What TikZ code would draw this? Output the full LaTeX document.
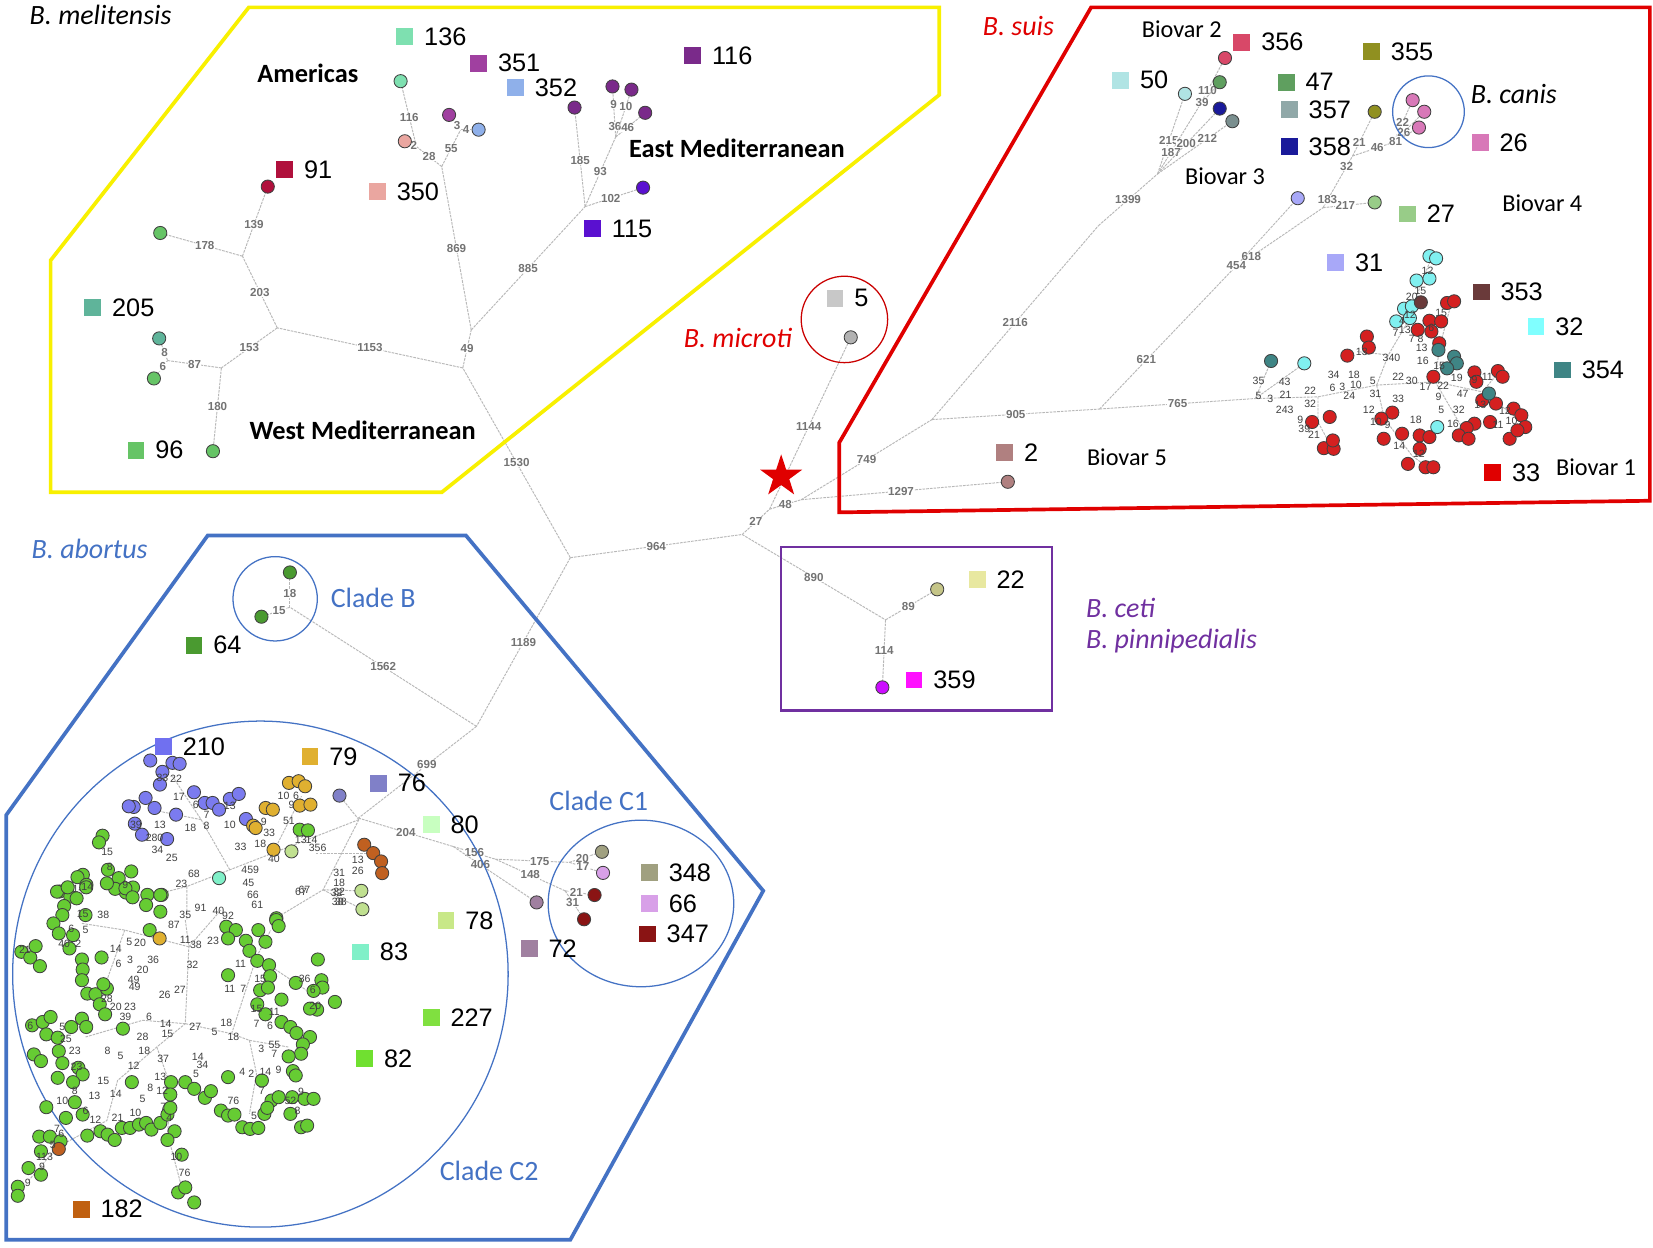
\documentclass[tikz,border=0pt]{standalone}
\usepackage{fontspec}
\setmainfont{Carlito}
\newfontfamily\arialfont{Liberation Sans}
\usetikzlibrary{%
  positioning,
  shapes.geometric
}
%%% legend colours, named after the legend numbers
\definecolor{c136}{HTML}{7EE0B0}
\definecolor{c351}{HTML}{A040A0}
\definecolor{c352}{HTML}{8FB0EA}
\definecolor{c116}{HTML}{7A2A8A}
\definecolor{c91}{HTML}{B0103C}
\definecolor{c350}{HTML}{EAA6A0}
\definecolor{c115}{HTML}{5A10D0}
\definecolor{c205}{HTML}{5FB49A}
\definecolor{c96}{HTML}{66C466}
\definecolor{c5}{HTML}{C8C8C8}
\definecolor{c356}{HTML}{D84868}
\definecolor{c355}{HTML}{909020}
\definecolor{c50}{HTML}{B0E4E4}
\definecolor{c47}{HTML}{5F9F5F}
\definecolor{c357}{HTML}{90A8A8}
\definecolor{c358}{HTML}{1A1A9A}
\definecolor{c26}{HTML}{D878B8}
\definecolor{c27}{HTML}{98CC88}
\definecolor{c31}{HTML}{A8A8F8}
\definecolor{c353}{HTML}{6A3A3A}
\definecolor{c32}{HTML}{80FFFF}
\definecolor{c354}{HTML}{3F8585}
\definecolor{c2}{HTML}{B08080}
\definecolor{c33}{HTML}{E00000}
\definecolor{c22}{HTML}{E8E8A0}
\definecolor{c359}{HTML}{FF10FF}
\definecolor{c64}{HTML}{4A9A30}
\definecolor{c210}{HTML}{7070F0}
\definecolor{c79}{HTML}{E0B030}
\definecolor{c76}{HTML}{8080C8}
\definecolor{c80}{HTML}{C8FFC0}
\definecolor{c78}{HTML}{C8E888}
\definecolor{c83}{HTML}{80F0C8}
\definecolor{c227}{HTML}{80E040}
\definecolor{c82}{HTML}{70E030}
\definecolor{c72}{HTML}{A080A0}
\definecolor{c348}{HTML}{A0A080}
\definecolor{c66}{HTML}{D8A0E8}
\definecolor{c347}{HTML}{8A1414}
\definecolor{c182}{HTML}{C06010}
%%% cluster and region colours
\definecolor{abgreen}{HTML}{66CC33}
\definecolor{bvred}{HTML}{D42020}
\definecolor{bvcyan}{HTML}{80F0F0}
\definecolor{bvteal}{HTML}{3F8585}
\definecolor{abviolet}{HTML}{7B7BEF}
\definecolor{abgold}{HTML}{E0B030}
\definecolor{abbrown}{HTML}{C06020}
\definecolor{ablight}{HTML}{C0E090}
\definecolor{melyellow}{HTML}{F8F000}
\definecolor{suisred}{HTML}{E00000}
\definecolor{abblue}{HTML}{4472C4}
\definecolor{cetipurple}{HTML}{7030A0}
\pgfdeclarelayer{behind}
\pgfsetlayers{behind,main}
\tikzset{
  edge/.style={draw=black!28, line width=0.9pt, dash pattern=on 2.5pt off 1pt},
  elab/.style={font=\arialfont\fontsize{11}{11}\selectfont\bfseries, text=black!55, fill=white, inner sep=0.4pt},
  clab/.style={font=\arialfont\fontsize{10}{10}\selectfont, text=black!75, inner sep=0pt},
  dot/.style={circle, draw=black!75, line width=0.8pt, minimum size=12.5pt, inner sep=0pt},
  sq/.style={rectangle, minimum size=16pt, inner sep=0pt},
  num/.style={font=\arialfont\fontsize{24}{24}\selectfont, inner sep=1pt},
  species/.style={font=\fontsize{26.5}{26.5}\selectfont\itshape, inner sep=0pt},
  region/.style={font=\fontsize{25}{25}\selectfont\bfseries, inner sep=0pt},
  biovar/.style={font=\fontsize{23}{23}\selectfont, inner sep=0pt},
  clade/.style={font=\fontsize{26.5}{26.5}\selectfont, text=abblue, inner sep=0pt},
  thinring/.style={line width=1.2pt},
}

\begin{document}
\begin{tikzpicture}[x=1pt,y=-1pt]
\begin{pgfonlayer}{behind}
\fill[white] (0,0) rectangle (1568,1183);
\end{pgfonlayer}
\useasboundingbox (0,0) rectangle (1568,1183);

%%% species regions
\draw[melyellow, line width=3.5pt, line join=miter] (236,7) -- (891,7) -- (891,90) -- (419,467) -- (48,467) -- (48,247) -- cycle;
\draw[suisred, line width=3.5pt] (1035,7) -- (1565,7) -- (1565,475) -- (796,486) -- (796,420) -- cycle;
\draw[abblue, line width=3.5pt] (197,508) -- (442,508) -- (724,845) -- (541,1176) -- (6,1176) -- (6,773) -- cycle;
\draw[cetipurple, line width=2.5pt] (741,519) rectangle (998,674);
\draw[suisred!90!black, thinring] (801,303) circle (41);
\draw[abblue, thinring] (1355,106) circle (34);
\draw[abblue, thinring] (261,568) circle (40);
\draw[abblue, thinring] (247,924) ellipse (235 and 240);
\draw[abblue, thinring] (608,857) ellipse (88 and 79);

%%% root
\node[star, star points=5, star point ratio=2.6, fill=suisred, inner sep=0pt, minimum size=42pt] (root) at (741,452) {};

%%% branch points
\coordinate (r0) at (704,507);
\coordinate (r1) at (730,483);
\coordinate (r2) at (760,474);
\coordinate (ja) at (541,529);
\coordinate (jm) at (439,349);
\coordinate (jb) at (452,689);
\coordinate (jc) at (840,588);
\coordinate (js) at (884,398);
\coordinate (js2) at (1043,388);
\coordinate (jk) at (1191,378);
%% melitensis
\coordinate (mj1) at (263,311);
\coordinate (mj2) at (447,313);
\coordinate (mj3) at (419,158);
\coordinate (mj4) at (555,196);
\coordinate (mj5) at (230,243);
\coordinate (mj6) at (210,349);
\coordinate (mj7) at (395,139);
\coordinate (mj8) at (584,130);
\coordinate (mj9) at (437,123);
\coordinate (mj10) at (159,342);
%% suis
\coordinate (jsb) at (1042,214);
\coordinate (jsc) at (1098,165);
\coordinate (jsd) at (1138,100);
\coordinate (jse) at (1170,255);
\coordinate (jsf) at (1255,197);
\coordinate (jsg) at (1283,148);
\coordinate (jsh) at (1322,135);
%% abortus
\coordinate (jcb) at (275,576);
\coordinate (jd) at (340,776);
\coordinate (je) at (430,803);
\coordinate (jf) at (470,815);
\coordinate (jg) at (540,818);
\coordinate (jh) at (536,845);

%%% genotypes
\node[dot, fill=c136] (m136) at (380,77) {};
\node[dot, fill=c350] (m350) at (384,134) {};
\node[dot, fill=c351] (m351) at (426,109) {};
\node[dot, fill=c352] (m352) at (454,123) {};
\node[dot, fill=c91] (m91) at (254,177) {};
\node[dot, fill=c96] (mg1) at (152,221) {};
\node[dot, fill=c205] (m205) at (151,321) {};
\node[dot, fill=c96] (mg2) at (146,359) {};
\node[dot, fill=c96] (m96) at (202,428) {};
\node[dot, fill=c116] (m116a) at (545,102) {};
\node[dot, fill=c116] (m116b) at (581,82) {};
\node[dot, fill=c116] (m116c) at (599,85) {};
\node[dot, fill=c116] (m116d) at (612,107) {};
\node[dot, fill=c115] (m115) at (610,178) {};
\node[dot, fill=black!30] (m5) at (807,320) {};
\node[dot, fill=c356] (n356) at (1162,55) {};
\node[dot, fill=c47] (n47) at (1157,78) {};
\node[dot, fill=c50] (n50) at (1124,89) {};
\node[dot, fill=c358] (n358) at (1157,103) {};
\node[dot, fill=c357!85!black] (n357) at (1169,115) {};
\node[dot, fill=c355] (n355) at (1304,106) {};
\node[dot, fill=c26] (nc1) at (1340,95) {};
\node[dot, fill=c26] (nc2) at (1351,106) {};
\node[dot, fill=c26] (nc3) at (1346,121) {};
\node[dot, fill=c31] (n31) at (1231,188) {};
\node[dot, fill=c27] (n27) at (1304,192) {};
\node[dot, fill=c2] (b5) at (956,457) {};
\node[dot, fill=c22!85!black] (n22) at (889,559) {};
\node[dot, fill=c359!80!blue] (n359) at (837,652) {};
\node[dot, fill=c64] (nb1) at (275,543) {};
\node[dot, fill=c64] (nb2) at (248,585) {};
\node[dot, fill=c348] (n348) at (571,808) {};
\node[dot, fill=c66] (n66) at (572,828) {};
\node[dot, fill=c347] (n347a) at (564,849) {};
\node[dot, fill=c347] (n347b) at (554,872) {};
\node[dot, fill=c72] (n72) at (509,856) {};

%%% tree
\begin{pgfonlayer}{behind}
\draw[edge] (ja) -- node[elab]{964} (r0);
\draw[edge] (r0) -- node[elab]{27} (r1);
\draw[edge] (r1) -- node[elab]{1144} (m5);
\draw[edge] (r1) -- node[elab]{48} (r2);
\draw[edge] (r2) -- node[elab]{1297} (b5);
\draw[edge] (r2) -- node[elab]{749} (js);
\draw[edge] (r0) -- node[elab]{890} (jc);
\draw[edge] (jc) -- node[elab]{89} (n22);
\draw[edge] (jc) -- node[elab]{114} (n359);
%% melitensis
\draw[edge] (ja) -- node[elab]{1530} (jm);
\draw[edge] (jm) -- node[elab]{1153} (mj1);
\draw[edge] (jm) -- node[elab]{49} (mj2);
\draw[edge] (mj2) -- node[elab]{869} (mj3);
\draw[edge] (mj2) -- node[elab]{885} (mj4);
\draw[edge] (mj3) -- node[elab]{28} (mj7);
\draw[edge] (mj7) -- node[elab]{116} (m136);
\draw[edge] (mj7) -- node[elab]{2} (m350);
\draw[edge] (mj3) -- node[elab]{55} (mj9);
\draw[edge] (mj9) -- node[elab]{3} (m351);
\draw[edge] (mj9) -- node[elab]{4} (m352);
\draw[edge] (mj1) -- node[elab]{203} (mj5);
\draw[edge] (mj5) -- node[elab]{178} (mg1);
\draw[edge] (mj5) -- node[elab]{139} (m91);
\draw[edge] (mj1) -- node[elab]{153} (mj6);
\draw[edge] (mj6) -- node[elab]{87} (mj10);
\draw[edge] (mj10) -- node[elab]{8} (m205);
\draw[edge] (mj10) -- node[elab]{6} (mg2);
\draw[edge] (mj6) -- node[elab]{180} (m96);
\draw[edge] (mj4) -- node[elab]{185} (m116a);
\draw[edge] (mj4) -- node[elab]{93} (mj8);
\draw[edge] (mj4) -- node[elab]{102} (m115);
\draw[edge] (mj8) -- node[elab,pos=.25]{36} node[elab,pos=.75]{9} (m116b);
\draw[edge] (mj8) -- node[elab,pos=.75]{10} (m116c);
\draw[edge] (mj8) -- node[elab]{46} (m116d);
%% suis
\draw[edge] (js) -- node[elab]{905} (js2);
\draw[edge] (js) -- node[elab]{2116} (jsb);
\draw[edge] (jsb) -- node[elab]{1399} (jsc);
\draw[edge] (jsc) -- node[elab,pos=.45]{215} (n50);
\draw[edge] (jsc) -- node[elab,pos=.32]{187} (jsd);
\draw[edge] (jsd) -- node[elab,pos=.35]{110} (n356);
\draw[edge] (jsd) -- node[elab,pos=.15]{39} (n47);
\draw[edge] (jsc) -- node[elab,pos=.5]{200} (n358);
\draw[edge] (jsc) -- node[elab,pos=.72]{212} (n357);
\draw[edge] (js2) -- node[elab,pos=.35]{621} (jse);
\draw[edge] (jse) -- node[elab,pos=.2]{618} (jsf);
\draw[edge] (jse) -- node[elab,pos=.05]{454} (n31);
\draw[edge] (jsf) -- node[elab]{217} (n27);
\draw[edge] (jsf) -- node[elab,pos=.15]{183} node[elab,pos=.8]{32} (jsg);
\draw[edge] (jsg) -- node[elab,pos=.35]{21} (n355);
\draw[edge] (jsg) -- node[elab,pos=.6]{46} (jsh);
\draw[edge] (jsh) -- node[elab,pos=.55]{22} (nc1);
\draw[edge] (jsh) -- node[elab,pos=.4]{26} (nc2);
\draw[edge] (jsh) -- node[elab,pos=.1]{81} (nc3);
\draw[edge] (js2) -- node[elab]{765} (jk);
%% abortus
\draw[edge] (ja) -- node[elab]{1189} (jb);
\draw[edge] (jb) -- node[elab]{1562} (jcb);
\draw[edge] (jcb) -- node[elab]{18} (nb1);
\draw[edge] (jcb) -- node[elab]{15} (nb2);
\draw[edge] (jb) -- node[elab,pos=.42]{699} (jd);
\draw[edge] (jd) -- node[elab]{204} (je);
\draw[edge] (je) -- node[elab]{156} (jf);
\draw[edge] (je) -- node[elab,pos=.35]{406} (n72);
\draw[edge] (jf) -- node[elab,pos=.6]{175} (jg);
\draw[edge] (jf) -- node[elab]{148} (jh);
\draw[edge] (jg) -- node[elab]{20} (n348);
\draw[edge] (jg) -- node[elab]{17} (n66);
\draw[edge] (jh) -- node[elab]{21} (n347a);
\draw[edge] (jh) -- node[elab]{31} (n347b);
\end{pgfonlayer}

%%% biovar 1 cluster
\begin{scope}[shift={(990.5,209.5)}, xscale=.371, yscale=.318]
\begin{pgfonlayer}{behind}
\draw[edge] (540,530) -- (700,525) -- (850,490) -- (1000,480) -- (1120,510) -- (1200,580);
\draw[edge] (540,530) -- (580,418);
\draw[edge] (540,530) -- (665,425);
\draw[edge] (700,525) -- (700,600) -- (730,665);
\draw[edge] (850,490) -- (880,400) -- (930,300) -- (960,200) -- (990,110);
\draw[edge] (850,490) -- (870,590) -- (940,700) -- (980,735);
\draw[edge] (1000,480) -- (1010,380) -- (1040,250);
\draw[edge] (1000,480) -- (1070,620);
\draw[edge] (1120,510) -- (1160,455);
\draw[edge] (880,400) -- (800,390);
\end{pgfonlayer}
\foreach \x/\y [count=\i] in {1030/245,1048/240,985/298,1015/300,955/325,990/330,1010/365,825/345,830/378,775/402,995/465,1100/452,1160/448,1172/465,1155/545,1200/560,1220/580,1230/615,1190/650,1210/625,1100/605,1080/618,1060/640,1085/650,960/640,985/645,915/635,868/650,890/572,862/590,960/680,930/725,975/735,995/735,730/585,685/600,715/678,740/680,738/655,1120/535,1105/480,1140/600}
  \node[dot, fill=bvred] (bvr\i) at (\x,\y) {};
\foreach \x/\y [count=\i] in {985/105,1002/112,952/178,985/172,920/262,935/290,900/300,1005/615,665/425,940/255}
  \node[dot, fill=bvcyan] (bvc\i) at (\x,\y) {};
\foreach \x/\y [count=\i] in {580/418,1008/385,1048/405,1055/425,1030/440,1137/515}
  \node[dot, fill=bvteal] (bvt\i) at (\x,\y) {};
\node[dot, fill=c353] (bvb1) at (963,243) {};
\foreach \x/\y/\t [count=\i] in {980/150/12,962/210/15,940/228/20,935/280/12,1015/275/15,915/298/4,898/335/7,922/325/13,990/318/6,940/352/7,962/352/8,965/378/13,812/390/13,888/408/340,968/418/16,1010/432/15,1055/468/19,905/465/22,940/478/30,975/495/17,1020/492/22,840/478/5,548/478/35,615/480/43,548/522/5,617/518/21,578/530/3,680/508/22,680/545/32,615/563/243,740/460/34,792/460/18,737/497/6,762/495/3,797/490/10,780/523/24,847/515/31,905/530/33,1008/525/9,830/565/12,848/600/10,878/610/9,950/595/18,1015/565/5,1060/565/32,1045/605/16,1115/548/13,1178/568/12,1195/598/10,1160/610/11,908/672/14,958/695/12,655/595/9,665/620/39,690/638/21,1133/465/11,1100/475/9,1070/515/47}
  \node[clab] (bvl\i) at (\x,\y) {\t};
\end{scope}

%%% clade C2, upper part
\begin{scope}[shift={(0.4,492.2)}, xscale=.34, yscale=.317]
\begin{pgfonlayer}{behind}
\draw[edge] (1000,900) -- (760,1000) -- (640,1050) -- (520,1100) -- (520,1200);
\draw[edge] (1000,900) -- (946,828);
\draw[edge] (760,1000) -- (840,830);
\draw[edge] (640,1050) -- (560,900) -- (480,770);
\draw[edge] (560,900) -- (420,870);
\draw[edge] (1000,900) -- (900,1110) -- (760,1200);
\draw[edge] (900,1110) -- (1007,1113);
\draw[edge] (900,1110) -- (1010,1168);
\draw[edge] (880,1000) -- (1040,1000);
\draw[edge] (520,1100) -- (410,1130);
\end{pgfonlayer}
\foreach \x/\y [count=\i] in {418/723,480/730,500/733,452/757,445/795,540/818,405/835,372/862,358/860,430/865,490/885,570/850,592/850,640/838,665/823,685/898,375/912,395/945,465/958,610/870}
  \node[dot, fill=abviolet] (abv\i) at (\x,\y) {};
\foreach \x/\y [count=\i] in {805/790,832/785,850/800,740/865,760/870,835/858,865/855,705/918,712/925,762/990}
  \node[dot, fill=abgold] (abo\i) at (\x,\y) {};
\foreach \x/\y [count=\i] in {835/930,858/932,285/948,275/968,230/1065,215/1072,300/1050,365/1055,330/1075,350/1118,370/1103,320/1107,165/1115,195/1130,240/1095,410/1125,450/1125,770/1195}
  \node[dot, fill=abgreen] (abg\i) at (\x,\y) {};
\foreach \x/\y [count=\i] in {812/995,1007/1113,1010/1168}
  \node[dot, fill=ablight] (abl\i) at (\x,\y) {};
\foreach \x/\y [count=\i] in {1015/975,1040/1000,1062/1025,1065/1060}
  \node[dot, fill=abbrown] (abb\i) at (\x,\y) {};
\node[dot, fill=c83] (n83) at (610,1075) {};
\node[dot, fill=c76] (n76) at (946,828) {};
\foreach \x/\y/\t [count=\i] in {452/775/33,490/778/22,498/832/17,545/855/6,575/887/7,640/860/13,640/915/10,575/918/8,530/925/18,378/915/39,445/915/13,430/955/280,438/990/34,478/1015/25,298/997/15,305/1042/8,348/1095/9,298/1085/6,540/1063/68,505/1093/23,670/980/33,725/972/18,763/1018/40,697/1050/459,692/1088/45,790/830/10,825/828/6,812/857/9,805/905/51,735/908/9,750/940/33,838/960/13,868/960/14,885/985/356,997/1020/13,997/1052/26,945/1058/31,945/1088/18,945/1117/32,950/1145/38,848/1110/67,218/1108/14}
  \node[clab] (abla\i) at (\x,\y) {\t};
\end{scope}

%%% clade C2, lower part
\begin{scope}[shift={(0,834.7)}, xscale=.338, yscale=.317]
\begin{pgfonlayer}{behind}
\draw[edge] (520,120) -- (530,200) -- (520,430) -- (440,500) -- (330,600) -- (300,720) -- (160,800) -- (80,900);
\draw[edge] (520,430) -- (650,460) -- (700,480) -- (720,580) -- (700,700);
\draw[edge] (530,200) -- (620,90);
\draw[edge] (520,430) -- (400,420) -- (240,470);
\draw[edge] (530,200) -- (350,150) -- (230,130);
\draw[edge] (350,150) -- (300,300) -- (250,350);
\draw[edge] (440,500) -- (480,620) -- (470,760) -- (510,920);
\draw[edge] (700,480) -- (810,500);
\draw[edge] (650,460) -- (720,230) -- (760,150);
\draw[edge] (720,230) -- (860,330);
\end{pgfonlayer}
\foreach \x/\y [count=\i] in {160/35,190/22,215/55,180/78,242/22,300/10,352/25,372/52,450/45,175/105,150/130,165/160,205/165,240/105,410/75,450/95,420/150,60/215,85/232,112/258,100/198,195/205,230/238,232/268,285/232,230/300,245/340,268/342,300/325,280/372,295/402,290/312,
  635/140,662/150,690/182,640/175,725/150,775/120,782/138,745/185,700/212,722/242,755/255,758/288,640/285,730/330,752/322,722/372,790/358,745/402,790/425,815/440,832/458,870/470,850/492,845/520,822/572,830/585,810/528,892/238,902/300,905/322,880/332,830/308,940/365,890/388,870/385,
  90/435,120/425,142/410,130/462,162/472,200/440,230/415,242/440,95/522,115/542,165/512,175/548,220/562,232/582,345/445,162/592,205/605,210/665,130/680,185/712,232/702,245/765,282/752,302/762,322/778,342/742,365/742,390/732,410/727,425/747,450/727,470/702,480/605,478/642,478/682,490/752,470/778,110/768,115/812,80/862,50/918,50/945,115/882,140/768,170/782,370/605,
  520/605,545/625,575/652,592/632,620/690,640/705,658/702,680/740,702/745,725/742,742/700,762/660,782/650,750/682,640/590,735/600,815/700,820/650,855/655,880/655,845/740,862/735,500/935,520/920,545/965,510/822}
  \node[dot, fill=abgreen] (abh\i) at (\x,\y) {};
\node[dot, fill=abgold] (abo11) at (448,175) {};
\node[dot, fill=abbrown] (abb5) at (165,805) {};
\foreach \x/\y/\t [count=\i] in {710/45/66,722/75/61,845/35/67,945/40/32,948/65/38,520/103/35,563/85/91,613/93/40,640/108/92,488/135/87,520/178/11,550/195/38,598/182/23,540/253/32,430/238/36,400/268/20,462/345/26,505/330/27,375/298/49,378/320/49,333/252/6,365/240/3,325/205/14,363/185/5,393/187/20,290/103/38,232/102/15,245/20/14,352/15/9,300/355/28,325/380/20,365/380/23,352/410/39,418/410/6,465/432/14,470/462/15,548/438/27,602/455/5,635/428/18,655/470/18,720/430/7,758/438/6,720/385/15,770/395/11,645/325/11,683/325/7,675/250/11,730/295/15,400/470/28,405/512/18,458/535/37,338/528/5,375/555/12,302/510/8,290/600/15,325/640/14,450/590/13,455/630/12,422/622/8,400/655/5,458/680/7,475/713/4,380/697/10,555/530/14,568/552/34,550/580/5,680/575/4,705/580/2,745/573/14,782/568/9,655/660/76,735/630/7,815/660/52,845/635/9,835/692/8,713/705/5,495/830/10,518/875/76,175/660/10,210/630/8,265/645/13,240/690/6,268/718/12,330/712/21,160/745/7,172/760/6,148/793/5,125/828/113,118/858/9,78/905/9,885/378/20,855/295/36,878/330/6,770/495/55,733/505/3,770/520/7,70/210/21,180/190/40,220/192/2,200/145/6,240/150/5,85/437/6,175/440/5,185/475/25,210/510/23,215/560/23}
  \node[clab] (ablb\i) at (\x,\y) {\t};
\end{scope}

%%% legend squares
\foreach \nm/\px/\py in {136/384/35, 351/454/60, 352/489/83, 116/657/53, 91/270/161, 350/358/182, 115/562/217, 205/88/292, 96/129/427,
  5/792/283, 356/1178/40, 355/1301/49, 50/1063/76, 47/1220/78, 357/1223/104, 358/1223/139, 26/1404/135, 27/1335/203, 31/1267/249,
  353/1405/277, 32/1457/310, 354/1482/351, 2/953/429, 33/1416/448, 22/927/550, 359/867/645, 64/184/612, 210/155/708, 79/294/718,
  76/359/743, 80/409/782, 78/423/873, 83/342/903, 227/409/965, 82/346/1004, 72/502/900, 348/616/828, 66/616/857, 347/614/886, 182/77/1147}
{
  \node[sq, fill=c\nm] (sq\nm) at (\px,\py) {};
  \node[num, right=9pt of sq\nm] (t\nm) {\nm};
}

%%% names
\node[species, anchor=west] (melitensis) at (28,14) {B. melitensis};
\node[region] (americas) at (292,70) {Americas};
\node[region] (eastmed) at (699,141) {East Mediterranean};
\node[region] (westmed) at (344,408) {West Mediterranean};
\node[species, text=suisred] (suis) at (966,25) {B. suis};
\node[species, text=suisred] (microti) at (700,321) {B. microti};
\node[species] (canis) at (1436,89) {B. canis};
\node[biovar] (bv2) at (1121,28) {Biovar 2};
\node[biovar] (bv3) at (1162,167) {Biovar 3};
\node[biovar] (bv4) at (1463,193) {Biovar 4};
\node[biovar] (bv5) at (1069,434) {Biovar 5};
\node[biovar] (bv1) at (1514,443) {Biovar 1};
\node[species, text=abblue] (abortus) at (85,521) {B. abortus};
\node[clade] (cladeB) at (354,567) {Clade B};
\node[clade] (cladeC1) at (568,760) {Clade C1};
\node[clade] (cladeC2) at (464,1111) {Clade C2};
\node[species, text=cetipurple, anchor=west] (ceti) at (1030,577) {B. ceti};
\node[species, text=cetipurple, anchor=west] (pinni) at (1030,608) {B. pinnipedialis};

\end{tikzpicture}
\end{document}
